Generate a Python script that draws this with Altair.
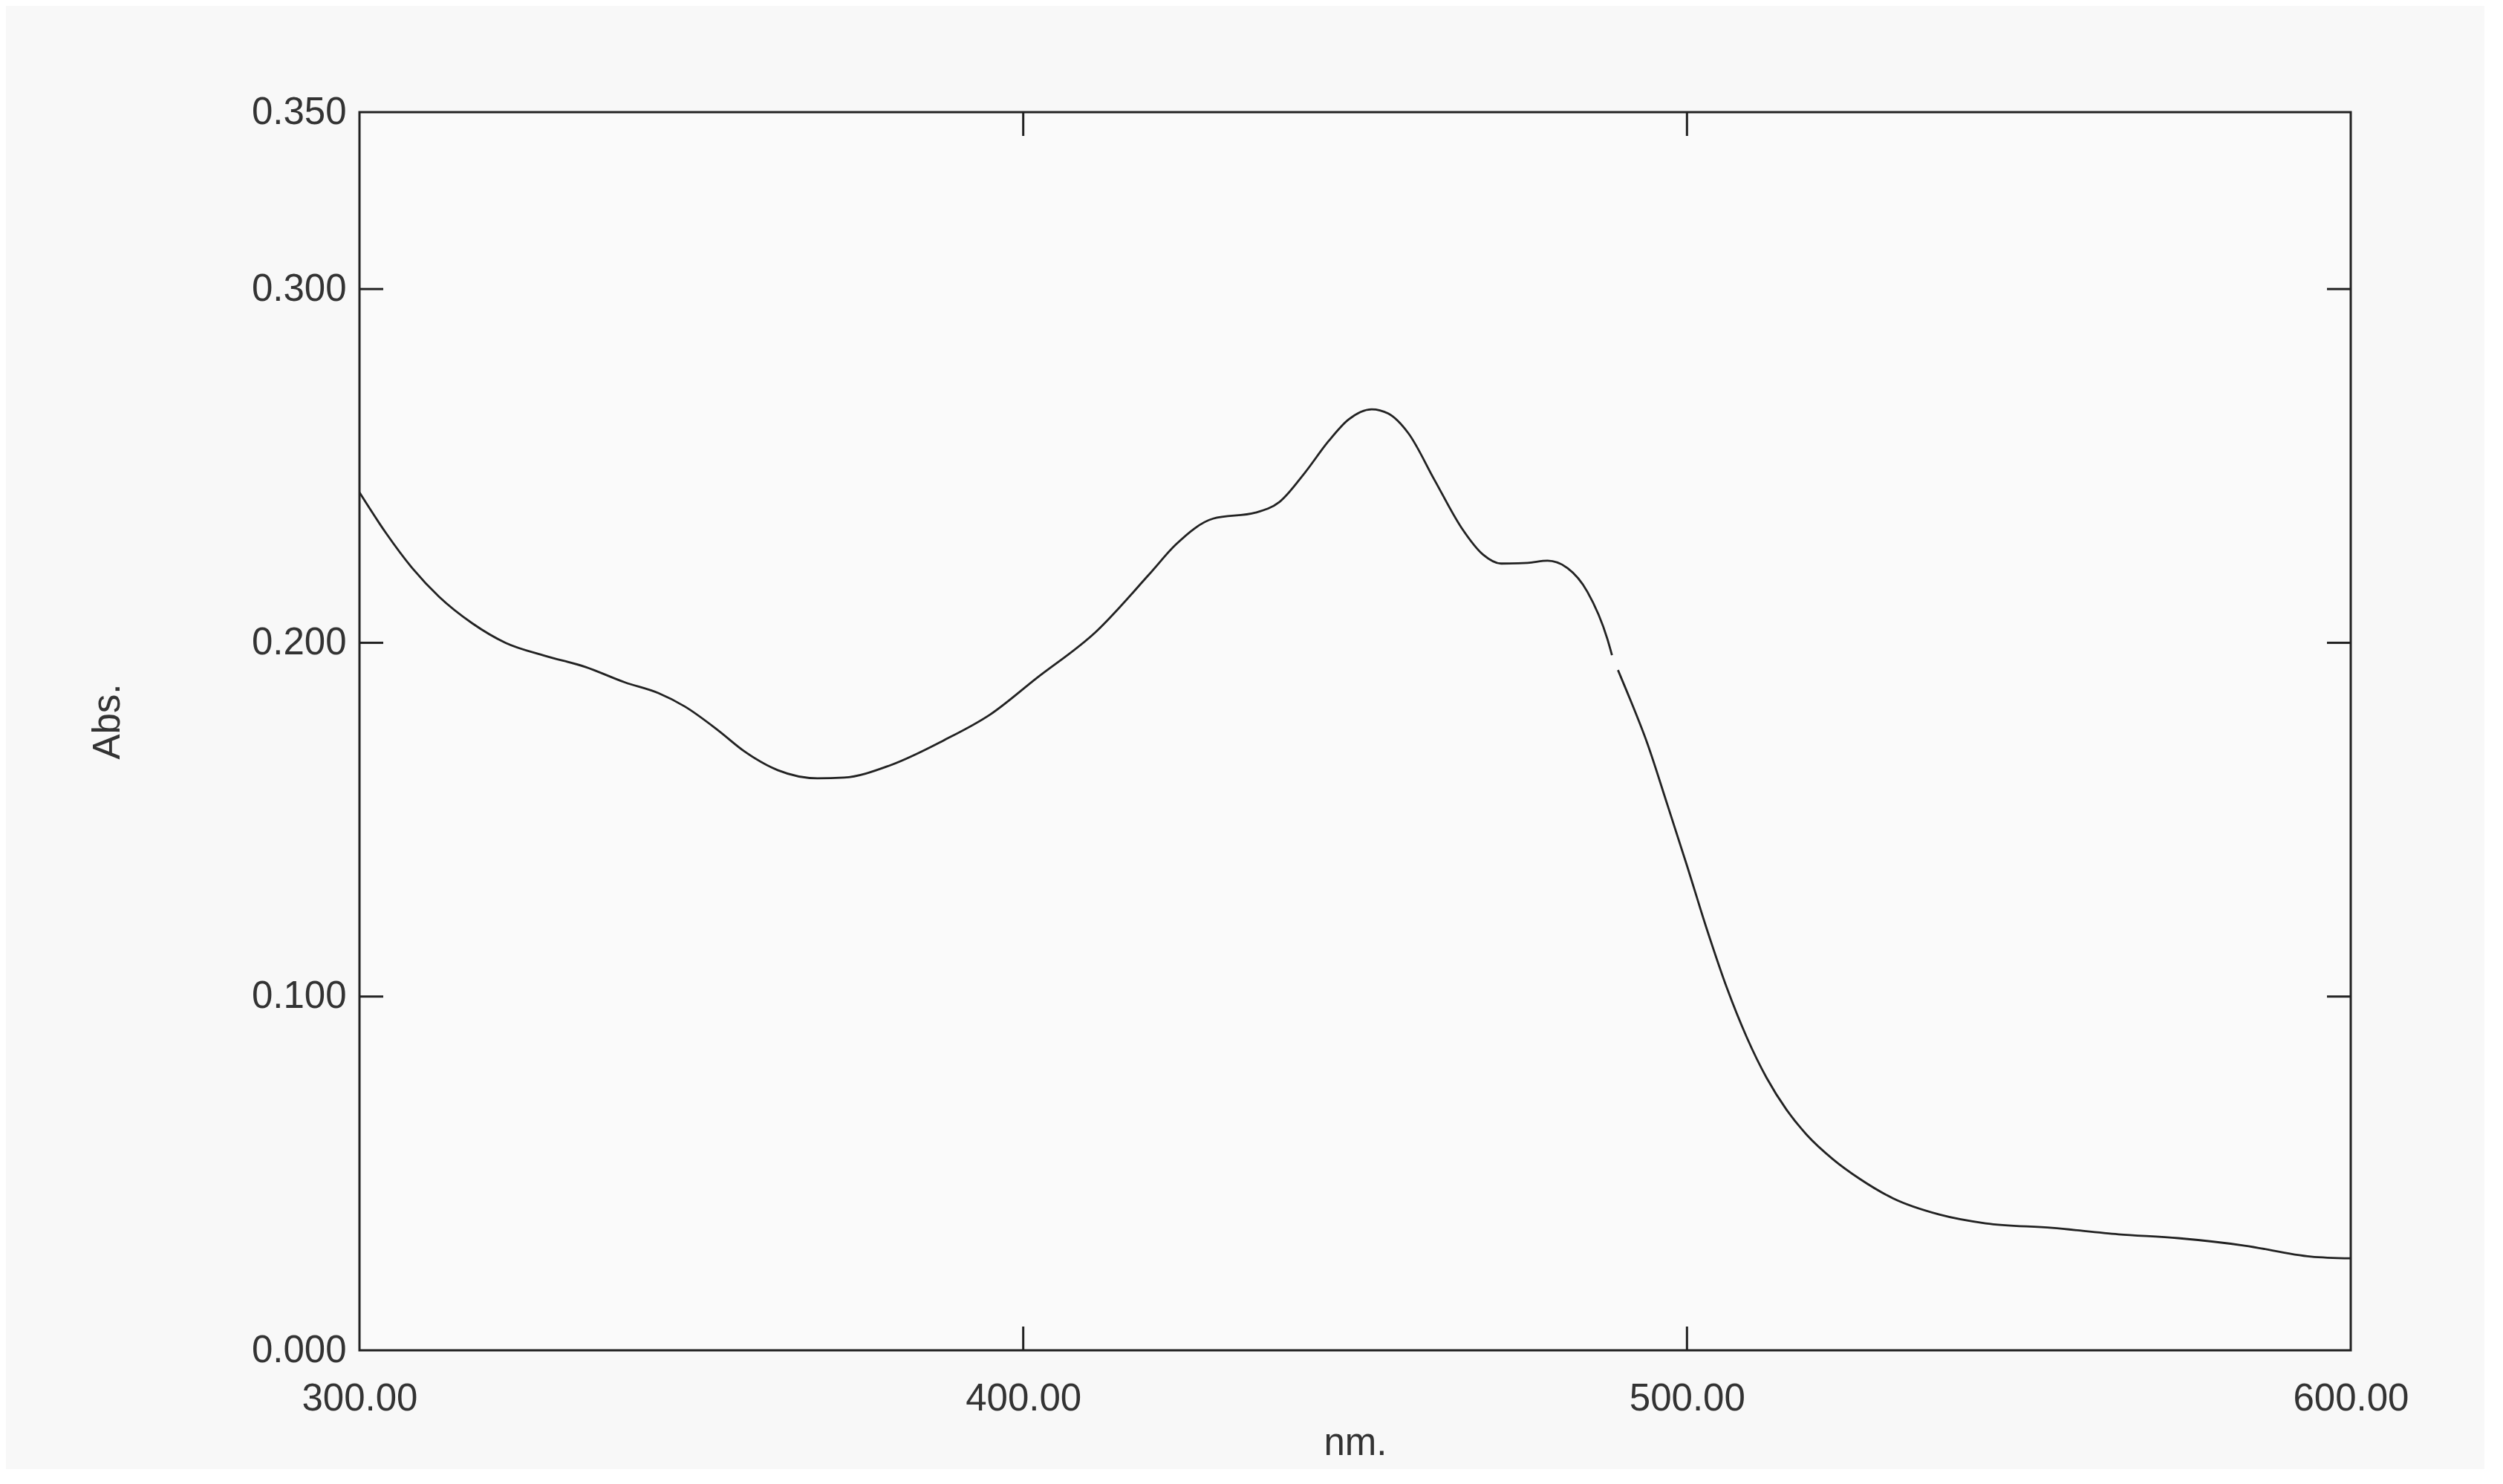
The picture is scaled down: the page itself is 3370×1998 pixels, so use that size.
import altair as alt
import pandas as pd

# Spectrum (wavelength in nm, absorbance)
nm_seg1 = [300, 304, 308, 312, 317, 322, 328, 334, 340, 345, 349, 354, 358, 363,
           369, 373, 380, 388, 395, 402, 411, 419, 423, 428.6, 435, 438.6, 442.4,
           446, 449, 452.5, 455, 458, 462, 466, 469.3, 472, 476, 479, 482, 485,
           488, 488.7]
abs_seg1 = [0.2425, 0.2310, 0.2210, 0.2130, 0.2055, 0.2000, 0.1963, 0.1932, 0.1888,
            0.1858, 0.1820, 0.1753, 0.1693, 0.1640, 0.1617, 0.1619, 0.1654, 0.1724,
            0.1797, 0.1900, 0.2032, 0.2194, 0.2278, 0.2351, 0.2368, 0.2398, 0.2480,
            0.2570, 0.2631, 0.2660, 0.2648, 0.2593, 0.2459, 0.2326, 0.2249, 0.2224,
            0.2226, 0.2232, 0.2211, 0.2144, 0.2011, 0.1965]
nm_seg2 = [489.6, 491, 494, 497, 500, 503, 506, 509, 512, 515, 518, 522, 526, 531,
           538, 545, 555, 565, 574, 584, 594, 600]
abs_seg2 = [0.1923, 0.1860, 0.1717, 0.1545, 0.1370, 0.1190, 0.1025, 0.0885, 0.0770,
            0.0680, 0.0610, 0.0540, 0.0485, 0.0430, 0.0384, 0.0359, 0.0346, 0.0328,
            0.0317, 0.0296, 0.0265, 0.0260]

x_ticks = [300, 400, 500, 600]
x_inner_ticks = [400, 500]
y_ticks = [0.0, 0.1, 0.2, 0.3, 0.35]
y_inner_ticks = [0.1, 0.2, 0.3]

W, H = 2681, 1667
FONT = "Liberation Sans"
TXT = "#333333"
INK = "#222222"
TICK_LEN = 32

df = pd.DataFrame({
    "nm": nm_seg1 + nm_seg2,
    "abs": abs_seg1 + abs_seg2,
    "seg": [1] * len(nm_seg1) + [2] * len(nm_seg2),
})
xt = pd.DataFrame({"nm": x_inner_ticks})
yt = pd.DataFrame({"abs": y_inner_ticks})

xscale = alt.Scale(domain=[300, 600], nice=False, zero=False)
yscale = alt.Scale(domain=[0, 0.35], nice=False, zero=True)

xaxis = alt.Axis(values=x_ticks, format=".2f", title="nm.", grid=False, domain=False,
                 ticks=False, tickSize=0, labelFlush=False, labelFont=FONT,
                 labelFontSize=51, labelColor=TXT, labelPadding=80,
                 labelBaseline="alphabetic", titleFont=FONT, titleFontSize=51,
                 titleFontWeight="normal", titleColor=TXT, titleY=140,
                 titleBaseline="alphabetic")
yaxis = alt.Axis(values=y_ticks, format=".3f", title="Abs.", grid=False, domain=False,
                 ticks=False, tickSize=0, labelFlush=False, labelFont=FONT,
                 labelFontSize=51, labelColor=TXT, labelPadding=18,
                 titleFont=FONT, titleFontSize=51, titleFontWeight="normal",
                 titleColor=TXT, titleX=-324, titleY=820, titleAngle=270,
                 titleBaseline="alphabetic")

line = alt.Chart(df).mark_line(color=INK, strokeWidth=2.8, interpolate="monotone").encode(
    x=alt.X("nm:Q", scale=xscale, axis=xaxis),
    y=alt.Y("abs:Q", scale=yscale, axis=yaxis),
    detail="seg:N",
)

tick_style = dict(color=INK, strokeWidth=3)
xt_bottom = alt.Chart(xt).mark_rule(**tick_style).encode(
    x=alt.X("nm:Q", scale=xscale), y=alt.value(H), y2=alt.value(H - TICK_LEN))
xt_top = alt.Chart(xt).mark_rule(**tick_style).encode(
    x=alt.X("nm:Q", scale=xscale), y=alt.value(0), y2=alt.value(TICK_LEN))
yt_left = alt.Chart(yt).mark_rule(**tick_style).encode(
    y=alt.Y("abs:Q", scale=yscale), x=alt.value(0), x2=alt.value(TICK_LEN))
yt_right = alt.Chart(yt).mark_rule(**tick_style).encode(
    y=alt.Y("abs:Q", scale=yscale), x=alt.value(W), x2=alt.value(W - TICK_LEN))

chart = alt.layer(line, xt_bottom, xt_top, yt_left, yt_right).properties(
    width=W, height=H,
    autosize=alt.AutoSizeParams(type="none"),
    padding={"left": 476, "top": 143, "right": 180, "bottom": 160},
    background="#f8f8f8",
).configure_view(
    stroke=INK, strokeWidth=3, fill="#fafafa"
)

chart.save("out.html", embed_options={"renderer": "svg", "actions": False})
